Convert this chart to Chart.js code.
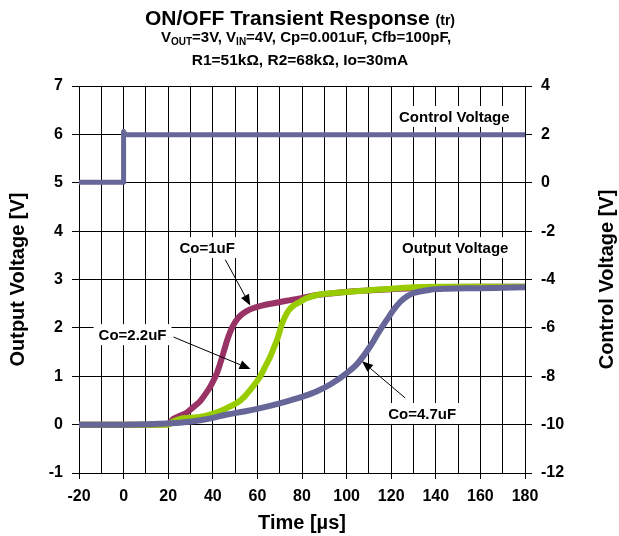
<!DOCTYPE html>
<html><head><meta charset="utf-8">
<script src="https://cdn.jsdelivr.net/npm/chart.js@4"></script>
<style>html,body{margin:0;padding:0;background:#fff}#wrap{width:619px;height:536px}</style>
</head><body><div id="wrap"><canvas id="c" width="619" height="536"></canvas></div>
<script>
// ---- data ----
const ctlT = [-20, 0, 0, 0.6, 2, 180];
const ctlV = [0.02, 0.02, 2.12, 2.0, 1.98, 1.98];

const co1T = [-20, 0, 15, 20, 22.4, 25, 28.4, 31, 34.4, 36.5, 38.9, 40.5, 41.9, 43, 44.1, 45.3, 46.4, 47.5, 48.6, 50.3, 52.3, 55, 58.3, 62, 67.3, 73, 79.2, 86.7, 95, 105, 120, 140, 160, 180];
const co1V = [0, 0, 0, 0.02, 0.12, 0.18, 0.25, 0.35, 0.49, 0.62, 0.79, 0.93, 1.07, 1.22, 1.38, 1.57, 1.74, 1.88, 2.0, 2.14, 2.25, 2.34, 2.41, 2.46, 2.51, 2.56, 2.61, 2.68, 2.72, 2.76, 2.8, 2.84, 2.85, 2.85];

const co22T = [-20, 0, 20, 22, 25.4, 30, 34.4, 39, 43.4, 47, 50.9, 54, 56.8, 59, 61.3, 63.5, 65.8, 67.3, 68.8, 70, 71, 72.5, 74, 76.5, 79.2, 82, 86.7, 92, 100, 110, 120, 130, 140, 160, 180];
const co22V = [0, 0, 0, 0.06, 0.12, 0.14, 0.16, 0.21, 0.28, 0.36, 0.45, 0.57, 0.72, 0.85, 1.0, 1.2, 1.41, 1.58, 1.75, 1.93, 2.08, 2.24, 2.36, 2.47, 2.54, 2.61, 2.68, 2.71, 2.74, 2.78, 2.81, 2.84, 2.85, 2.85, 2.85];

const co47T = [-20, 0, 16.5, 25, 31.4, 39, 46.4, 54, 61.3, 70, 76.2, 81, 86.7, 93, 100.2, 105, 110.6, 114, 118.1, 121, 124.1, 127, 130.1, 134, 137.5, 145, 160, 170, 180];
const co47V = [0, 0, 0.02, 0.04, 0.07, 0.13, 0.21, 0.27, 0.34, 0.44, 0.52, 0.59, 0.69, 0.84, 1.07, 1.27, 1.62, 1.88, 2.17, 2.37, 2.54, 2.65, 2.72, 2.76, 2.79, 2.81, 2.82, 2.83, 2.84];

const xRange = [-20, 180];
const yLeftRange = [-1, 7];
const yRightRange = [-12, 4];

// annotation labels (anchors in data units)
const labelTexts = ['Control Voltage', 'Output Voltage', 'Co=1uF', 'Co=2.2uF', 'Co=4.7uF'];
const labelAt = [[148.3, 6.37], [148.7, 3.66], [37.5, 3.66], [4, 1.86], [133.9, 0.23]];
const arrowFrom = [null, null, [45.6, 3.41], [22.4, 1.81], [126.3, 0.55]];
const arrowTo = [null, null, [56.8, 2.46], [56.9, 1.15], [106.9, 1.31]];

// ---- drawing ----
const FONT = '"Liberation Sans", Arial, Helvetica, sans-serif';
const toXY = (ts, vs) => ts.map((t, i) => ({x: t, y: vs[i]}));

function drawParts(ctx, parts, cx, baseY) {
  let total = 0;
  parts.forEach(p => { ctx.font = 'bold ' + p[1] + 'px ' + FONT; total += ctx.measureText(p[0]).width; });
  let x = cx - total / 2;
  ctx.textAlign = 'left';
  ctx.textBaseline = 'alphabetic';
  parts.forEach(p => {
    ctx.font = 'bold ' + p[1] + 'px ' + FONT;
    ctx.fillText(p[0], x, baseY + (p[2] || 0));
    x += ctx.measureText(p[0]).width;
  });
}

const decor = {
  id: 'decor',
  afterDatasetsDraw(chart) {
    const ctx = chart.ctx, xs = chart.scales.x, ys = chart.scales.y;
    ctx.save();
    ctx.font = 'bold 15px ' + FONT;
    ctx.textAlign = 'center';
    ctx.textBaseline = 'middle';
    labelTexts.forEach((txt, i) => {
      const px = xs.getPixelForValue(labelAt[i][0]);
      const py = ys.getPixelForValue(labelAt[i][1]);
      const w = ctx.measureText(txt).width;
      ctx.fillStyle = '#fff';
      ctx.fillRect(px - w / 2 - 5, py - 10.5, w + 10, 21);
      ctx.fillStyle = '#000';
      ctx.fillText(txt, px, py + 1);
      if (arrowFrom[i]) {
        const x0 = xs.getPixelForValue(arrowFrom[i][0]), y0 = ys.getPixelForValue(arrowFrom[i][1]);
        const x1 = xs.getPixelForValue(arrowTo[i][0]), y1 = ys.getPixelForValue(arrowTo[i][1]);
        const a = Math.atan2(y1 - y0, x1 - x0);
        const L = 11, W = 4.5;
        const bx = x1 - L * Math.cos(a), by = y1 - L * Math.sin(a);
        ctx.strokeStyle = '#000';
        ctx.lineWidth = 1;
        ctx.beginPath(); ctx.moveTo(x0, y0); ctx.lineTo(bx, by); ctx.stroke();
        ctx.beginPath();
        ctx.moveTo(x1, y1);
        ctx.lineTo(bx - W * Math.sin(a), by + W * Math.cos(a));
        ctx.lineTo(bx + W * Math.sin(a), by - W * Math.cos(a));
        ctx.closePath(); ctx.fill();
      }
    });
    ctx.restore();
  },
  afterDraw(chart) {
    const ctx = chart.ctx, ca = chart.chartArea;
    ctx.save();
    ctx.fillStyle = '#000';
    drawParts(ctx, [['ON/OFF Transient Response ', 21], ['(tr)', 14]], 300, 25);
    drawParts(ctx, [['V', 15], ['OUT', 10, 3], ['=3V, V', 15], ['IN', 10, 3], ['=4V, Cp=0.001uF, Cfb=100pF,', 15]], 306, 42);
    drawParts(ctx, [['R1=51kΩ, R2=68kΩ, Io=30mA', 15.5]], 300, 65);
    // axis titles
    ctx.font = 'bold 20px ' + FONT;
    ctx.textAlign = 'center';
    ctx.textBaseline = 'middle';
    ctx.fillText('Time [µs]', (ca.left + ca.right) / 2, 523);
    const cy = (ca.top + ca.bottom) / 2;
    ctx.save(); ctx.translate(18.5, cy); ctx.rotate(-Math.PI / 2); ctx.fillText('Output Voltage [V]', 0, 0); ctx.restore();
    ctx.save(); ctx.translate(607, cy); ctx.rotate(-Math.PI / 2); ctx.fillText('Control Voltage [V]', 0, 0); ctx.restore();
    ctx.restore();
  }
};

const tickFont = {family: FONT, size: 16, weight: 'bold'};
const lineCommon = {pointRadius: 0, borderWidth: 6, fill: false, cubicInterpolationMode: 'monotone', borderJoinStyle: 'round'};

new Chart(document.getElementById('c'), {
  type: 'line',
  data: {
    datasets: [
      {label: 'Control Voltage', data: toXY(ctlT, ctlV), yAxisID: 'y1', borderColor: '#666699', borderWidth: 5, pointRadius: 0, tension: 0, borderJoinStyle: 'round', order: 0},
      Object.assign({label: 'Co=4.7uF', data: toXY(co47T, co47V), yAxisID: 'y', borderColor: '#666699', order: 1}, lineCommon),
      Object.assign({label: 'Co=2.2uF', data: toXY(co22T, co22V), yAxisID: 'y', borderColor: '#99CC00', order: 2}, lineCommon),
      Object.assign({label: 'Co=1uF', data: toXY(co1T, co1V), yAxisID: 'y', borderColor: '#993366', order: 3}, lineCommon)
    ]
  },
  options: {
    responsive: false,
    animation: false,
    layout: {padding: {top: 86, left: 0, right: 0, bottom: 0}},
    plugins: {legend: {display: false}, tooltip: {enabled: false}, title: {display: false}},
    scales: {
      x: {
        type: 'linear', min: xRange[0], max: xRange[1],
        ticks: {stepSize: 10, autoSkip: false, maxRotation: 0, font: tickFont, color: '#000', padding: 8,
          callback: v => (v % 20 === 0 ? String(v) : '')},
        grid: {color: '#000', lineWidth: 1, tickLength: 6,
          tickColor: c => (c.tick && c.tick.value % 20 === 0 ? '#000' : 'rgba(0,0,0,0)')},
        border: {color: '#000', width: 1},
        afterFit: s => { s.height = 63; }
      },
      y: {
        position: 'left', min: yLeftRange[0], max: yLeftRange[1],
        ticks: {stepSize: 1, font: tickFont, color: '#000', padding: 9},
        grid: {color: '#000', lineWidth: 1, tickLength: 7},
        border: {color: '#000', width: 1},
        afterFit: s => { s.width = 79; }
      },
      y1: {
        position: 'right', min: yRightRange[0], max: yRightRange[1],
        ticks: {stepSize: 2, font: tickFont, color: '#000', padding: 9},
        grid: {drawOnChartArea: false, color: '#000', lineWidth: 1, tickLength: 7},
        border: {color: '#000', width: 1},
        afterFit: s => { s.width = 94; }
      }
    }
  },
  plugins: [decor]
});
</script>
</body></html>
